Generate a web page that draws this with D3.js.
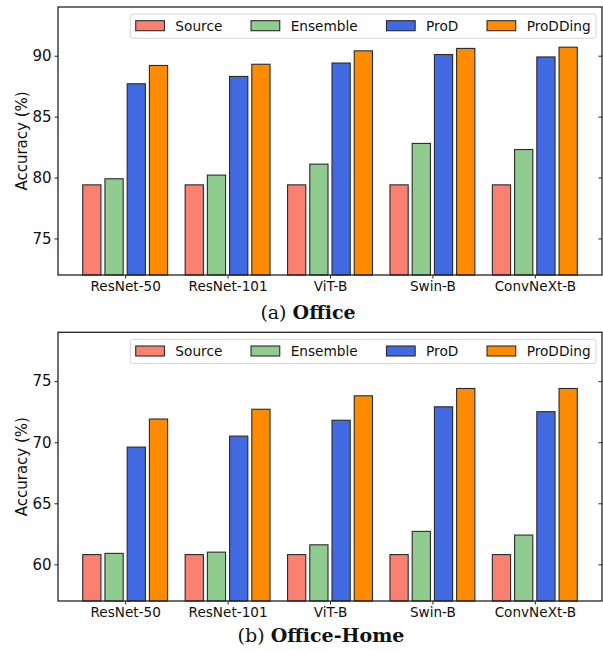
<!DOCTYPE html>
<html><head><meta charset="utf-8">
<script src="https://cdn.jsdelivr.net/npm/d3@7"></script>
<style>body{margin:0;background:#fff}svg{display:block}</style>
</head><body>
<svg id="c" width="603" height="650"></svg>
<script>
const categories = ["ResNet-50","ResNet-101","ViT-B","Swin-B","ConvNeXt-B"];
const seriesNames = ["Source","Ensemble","ProD","ProDDing"];
const seriesColors = ["#fa8072","#90cb90","#4169e1","#ff8c00"];
// (a) Office
const officeSource   = [79.4,79.4,79.4,79.4,79.4];
const officeEnsemble = [79.9,80.2,81.1,82.8,82.3];
const officeProD     = [87.7,88.3,89.4,90.1,89.9];
const officeProDDing = [89.2,89.3,90.4,90.6,90.7];
const officeTicks = [75,80,85,90];
// (b) Office-Home
const homeSource   = [60.8,60.8,60.8,60.8,60.8];
const homeEnsemble = [60.9,61.0,61.6,62.7,62.4];
const homeProD     = [69.6,70.5,71.8,72.9,72.5];
const homeProDDing = [71.9,72.7,73.8,74.4,74.4];
const homeTicks = [60,65,70,75];

const svg = d3.select("#c");
const L = 58, R = 602;
const x = d3.scaleLinear().domain([-0.656, 4.656]).range([L, R]);
const step = 0.217, bw = 0.178;

function panel(top, bottom, yDomain, ticks, series, capParts, capCenter, capBaseline) {
  const g = svg.append("g");
  const y = d3.scaleLinear().domain(yDomain).range([bottom, top]);
  // bars
  series.forEach((vals, j) => {
    g.selectAll(null).data(vals).enter().append("rect")
      .attr("x", (d, i) => x(i + (j - 1.5) * step - bw / 2))
      .attr("width", x(bw) - x(0))
      .attr("y", d => y(d))
      .attr("height", d => bottom - y(d))
      .attr("fill", seriesColors[j])
      .attr("stroke", "#2a2a2a").attr("stroke-width", 1.1);
  });
  // axes
  const ya = g.append("g").attr("transform", `translate(${L},0)`)
    .call(d3.axisLeft(y).tickValues(ticks).tickSize(3.5).tickPadding(3));
  ya.select(".domain").remove();
  ya.selectAll("text").attr("font-family", "DejaVu Sans").attr("font-size", 15).attr("fill", "#111");
  ya.selectAll("line").attr("stroke", "#222").attr("stroke-width", 1);
  const yr = g.append("g").attr("transform", `translate(${R},0)`)
    .call(d3.axisLeft(y).tickValues(ticks).tickSize(3.5).tickFormat(""));
  yr.select(".domain").remove();
  yr.selectAll("line").attr("stroke", "#222");
  const xa = g.append("g").attr("transform", `translate(0,${bottom})`)
    .call(d3.axisBottom(x).tickValues(d3.range(categories.length)).tickFormat(i => categories[i]).tickSize(3.5).tickPadding(2.5));
  xa.select(".domain").remove();
  xa.selectAll("text").attr("font-family", "DejaVu Sans").attr("font-size", 13.6).attr("fill", "#111");
  xa.selectAll("line").attr("stroke", "#222");
  // frame
  g.append("rect").attr("x", L).attr("y", top).attr("width", R - L).attr("height", bottom - top)
    .attr("fill", "none").attr("stroke", "#222").attr("stroke-width", 1.3);
  // y label
  g.append("text").attr("transform", `translate(21.5,${(top + bottom) / 2}) rotate(-90)`)
    .attr("text-anchor", "middle").attr("dominant-baseline", "central")
    .attr("font-family", "DejaVu Sans").attr("font-size", 15).attr("fill", "#111")
    .text("Accuracy (%)");
  // legend
  const lg = g.append("g");
  const box = lg.append("rect");
  const ly = top + 7, lh = 24.3;
  let cx = 0;
  const items = [];
  seriesNames.forEach((n, j) => {
    const p = lg.append("rect").attr("x", cx).attr("y", ly + 6.7).attr("width", 28.7).attr("height", 10)
      .attr("fill", seriesColors[j]).attr("stroke", "#2a2a2a").attr("stroke-width", 1.1);
    const t = lg.append("text").attr("x", cx + 39.6).attr("y", ly + 16.6)
      .attr("font-family", "DejaVu Sans").attr("font-size", 13.7).attr("fill", "#111").text(n);
    const w = t.node().getComputedTextLength();
    cx += 39.6 + w + 28.7;
  });
  const inner = cx - 28.7;
  const boxW = inner + 10.8;
  const boxX = 596 - boxW;
  lg.selectAll("rect,text").attr("transform", `translate(${boxX + 5.4},0)`);
  box.attr("transform", null).attr("x", boxX).attr("y", ly).attr("width", boxW).attr("height", lh)
    .attr("rx", 2.5).attr("fill", "#fff").attr("fill-opacity", 0.85)
    .attr("stroke", "#d6d6d6").attr("stroke-width", 1);
  // caption
  const cap = svg.append("text").attr("x", capCenter).attr("y", capBaseline).attr("text-anchor", "middle")
    .attr("font-family", "DejaVu Serif").attr("font-size", 19).attr("fill", "#111");
  cap.append("tspan").text(capParts[0]);
  cap.append("tspan").attr("font-weight", "bold").text(capParts[1]);
}

panel(7, 275, [72, 94], officeTicks, [officeSource, officeEnsemble, officeProD, officeProDDing],
      ["(a) ", "Office"], 308, 319);
panel(332.3, 601, [57, 79], homeTicks, [homeSource, homeEnsemble, homeProD, homeProDDing],
      ["(b) ", "Office-Home"], 321, 641.5);
</script>
</body></html>
